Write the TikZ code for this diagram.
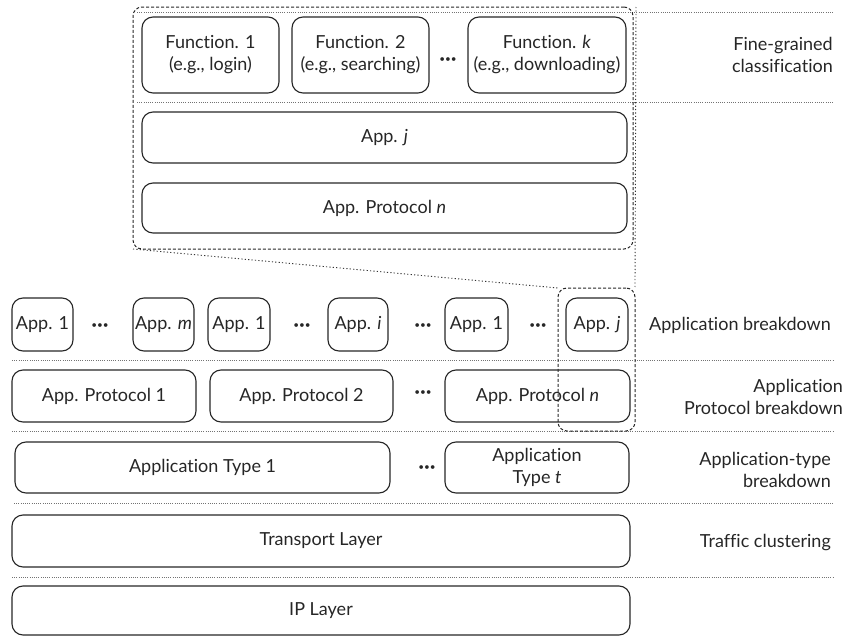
\documentclass[tikz,border=0pt]{standalone}
\usepackage{fontspec}
\setmainfont[Ligatures=NoCommon,RawFeature={-liga;-dlig}]{Lato}
\begin{document}
\begin{tikzpicture}[x=1pt,y=-1pt,
  every node/.style={font=\fontsize{18}{22}\selectfont,text=black!85},
  box/.style={draw=black!85,line width=1.1pt,rounded corners=11pt,inner sep=0pt,outer sep=0pt,align=center},
  zoombox/.style={draw=black!85,line width=1pt,dash pattern=on 3pt off 2pt,rounded corners=9pt,inner sep=0pt,outer sep=0pt},
  sep/.style={draw=black!55,line width=0.7pt,dash pattern=on 0.8pt off 1.4pt},
  zoomline/.style={draw=black!80,line width=0.9pt,dash pattern=on 1.2pt off 2.2pt},
  dots/.style={inner sep=0pt,font=\fontsize{10}{12}\selectfont},
  lbl/.style={inner sep=0pt,align=right,anchor=east}]
\useasboundingbox (0,0) rectangle (847,637);
% separators
\draw[sep] (137,12) -- (833,12);
\draw[sep] (137,102) -- (833,102);
\draw[sep] (12,360) -- (833,360);
\draw[sep] (12,431) -- (833,431);
\draw[sep] (14,503) -- (833,503);
\draw[sep] (12,577) -- (833,577);
% zoomed area
\node[zoombox,minimum width=500pt,minimum height=242pt] (big) at (383,128) {};
\node[box,minimum width=137pt,minimum height=76pt] (f1) at (210.5,55) {Function. 1\\(e.g., login)};
\node[box,minimum width=137pt,minimum height=76pt] (f2) at (360.5,55) {Function. 2\\(e.g., searching)};
\node[dots] (df) at (448,60) {•••};
\node[box,minimum width=158pt,minimum height=76pt] (fk) at (547,55) {Function. \textit{k}\\(e.g., downloading)};
\node[box,minimum width=485pt,minimum height=51pt] (appjw) at (384.5,137.5) {App. \textit{j}};
\node[box,minimum width=485pt,minimum height=50pt] (protnw) at (384.5,208) {App. Protocol \textit{n}};
% application row
\node[box,minimum width=61pt,minimum height=53pt] (a1) at (42.5,324.5) {App. 1};
\node[dots] (d1) at (100,326) {•••};
\node[box,minimum width=61pt,minimum height=53pt] (am) at (163.5,324.5) {App. \textit{m}};
\node[box,minimum width=62pt,minimum height=53pt] (a1b) at (239,324.5) {App. 1};
\node[dots] (d2) at (302,326) {•••};
\node[box,minimum width=60pt,minimum height=53pt] (ai) at (358,324.5) {App. \textit{i}};
\node[dots] (d3) at (423,326) {•••};
\node[box,minimum width=63pt,minimum height=53pt] (a1c) at (476.5,324.5) {App. 1};
\node[dots] (d4) at (538,326) {•••};
\node[box,minimum width=62pt,minimum height=53pt] (aj) at (597,324.5) {App. \textit{j}};
% protocol row
\node[box,minimum width=184pt,minimum height=52pt] (p1) at (104,396) {App. Protocol 1};
\node[box,minimum width=183pt,minimum height=52pt] (p2) at (301.5,396) {App. Protocol 2};
\node[dots] (d5) at (423,393) {•••};
\node[box,minimum width=185pt,minimum height=52pt] (pn) at (537.5,396) {App. Protocol \textit{n}};
% type row
\node[box,minimum width=375pt,minimum height=51pt] (t1) at (202.5,467.5) {Application Type 1};
\node[dots] (d6) at (427,468) {•••};
\node[box,minimum width=184pt,minimum height=51pt] (tt) at (537,467.5) {Application\\Type \textit{t}};
% lower layers
\node[box,minimum width=618pt,minimum height=52pt] (tl) at (321,541) {Transport Layer};
\node[box,minimum width=618pt,minimum height=49pt] (ipl) at (321,610.5) {IP Layer};
% small zoom box and zoom lines
\node[zoombox,minimum width=77pt,minimum height=143pt] (small) at (596.5,359.5) {};
\draw[zoomline] (big.south west) -- (small.north west);
\draw[zoomline] ([xshift=3pt]big.north east) -- (small.north east);
% labels
\node[lbl] (l1) at (833,55) {Fine-grained\\classification};
\node[inner sep=0pt] (l2) at (740,325) {Application breakdown};
\node[lbl] (l3) at (843,397) {Application\\Protocol breakdown};
\node[lbl] (l4) at (831,470) {Application-type\\breakdown};
\node[lbl] (l5) at (831,543) {Traffic clustering};
\end{tikzpicture}
\end{document}
